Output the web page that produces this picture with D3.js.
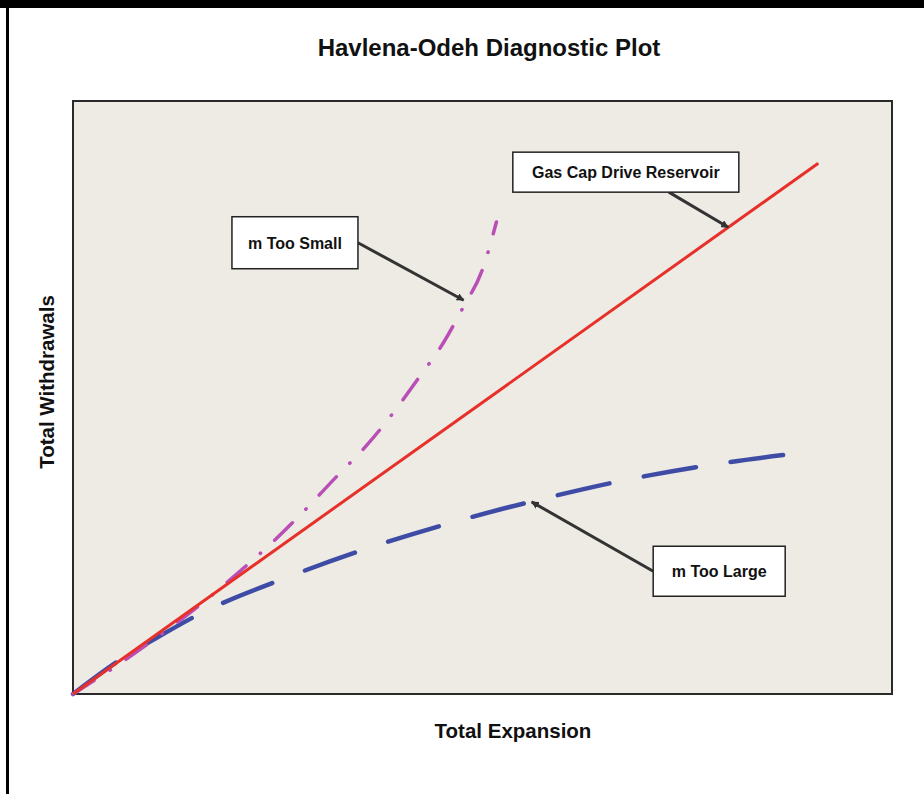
<!DOCTYPE html>
<html lang="en">
<head>
<meta charset="UTF-8">
<title>Havlena-Odeh Diagnostic Plot</title>
<script src="https://d3js.org/d3.v7.min.js"></script>
<style>
    body { margin: 0; background: #ffffff; }
    svg { display: block; font-family: 'Liberation Sans', Arial, sans-serif; }
    .title { font-size: 24px; font-weight: bold; text-anchor: middle; fill: #111; }
    .axis-label { font-size: 20.5px; font-weight: bold; text-anchor: middle; fill: #111; }
    .note-text { font-size: 16px; font-weight: bold; text-anchor: middle; fill: #111; }
</style>
</head>
<body>
<svg width="924" height="794"></svg>
<script>
// total expansion (x) vs total withdrawals (y), arbitrary units 0-10
const gasCapLine = [[0, 0], [9.1, 8.95]];

const mTooSmall = [
    [0, 0], [0.45, 0.40], [1.0, 0.93], [1.55, 1.50], [2.08, 2.12],
    [2.49, 2.63], [2.81, 3.07], [3.20, 3.64], [3.59, 4.20], [3.87, 4.67],
    [4.21, 5.31], [4.53, 5.94], [4.76, 6.51], [5.01, 7.20], [5.17, 7.96]
];

const mTooLarge = [
    [0, 0], [0.61, 0.61], [1.0, 0.93], [1.575, 1.37], [2.60, 1.96],
    [3.65, 2.48], [4.70, 2.92], [5.79, 3.31], [6.86, 3.64], [7.96, 3.90],
    [8.79, 4.05]
];

// callouts: text, point on curve, box centre (data units)
const notes = [
    { text: "Gas Cap Drive Reservoir", anchor: [8.0, 7.87], box: [6.75, 8.80] },
    { text: "m Too Small", anchor: [4.77, 6.64], box: [2.71, 7.61] },
    { text: "m Too Large", anchor: [5.60, 3.24], box: [7.89, 2.07] }
];

const svg = d3.select("svg");
const margin = { left: 73, right: 32, top: 101, bottom: 100 };
const width = +svg.attr("width");
const height = +svg.attr("height");

const x = d3.scaleLinear().domain([0, 10]).range([margin.left, width - margin.right]);
const y = d3.scaleLinear().domain([0, 10]).range([height - margin.bottom, margin.top]);

// page frame
svg.append("rect").attr("x", 0).attr("y", 0).attr("width", width).attr("height", 8).attr("fill", "#000");
svg.append("rect").attr("x", 6).attr("y", 0).attr("width", 3).attr("height", height).attr("fill", "#000");

// plot area
svg.append("rect")
    .attr("x", x(0)).attr("y", y(10))
    .attr("width", x(10) - x(0)).attr("height", y(0) - y(10))
    .attr("fill", "#edebe3")
    .attr("stroke", "#2a2a2a")
    .attr("stroke-width", 2);

svg.append("text").attr("class", "title")
    .attr("x", 489).attr("y", 56)
    .text("Havlena-Odeh Diagnostic Plot");

svg.append("text").attr("class", "axis-label")
    .attr("x", 513).attr("y", 738)
    .text("Total Expansion");

svg.append("text").attr("class", "axis-label")
    .attr("transform", "translate(54,382) rotate(-90)")
    .text("Total Withdrawals");

const line = d3.line()
    .x(d => x(d[0]))
    .y(d => y(d[1]))
    .curve(d3.curveMonotoneX);

svg.append("path")
    .datum(mTooLarge)
    .attr("d", line)
    .attr("fill", "none")
    .attr("stroke", "#3f4ca6")
    .attr("stroke-width", 4.5)
    .attr("stroke-linecap", "round")
    .attr("stroke-dasharray", "53,35");

svg.append("path")
    .datum(mTooSmall)
    .attr("d", line)
    .attr("fill", "none")
    .attr("stroke", "#b94fb6")
    .attr("stroke-width", 3.5)
    .attr("stroke-linecap", "round")
    .attr("stroke-dasharray", "25,19,0.5,19");

svg.append("path")
    .datum(gasCapLine)
    .attr("d", d3.line().x(d => x(d[0])).y(d => y(d[1])))
    .attr("fill", "none")
    .attr("stroke", "#e8302a")
    .attr("stroke-width", 3);

// arrow head
svg.append("defs").append("marker")
    .attr("id", "head")
    .attr("viewBox", "0 0 10 10")
    .attr("refX", 9).attr("refY", 5)
    .attr("markerWidth", 2.6).attr("markerHeight", 2.6)
    .attr("orient", "auto")
    .append("path")
    .attr("d", "M0,0 L10,5 L0,10 z")
    .attr("fill", "#333");

// box size and where the leader leaves the box
const boxLayout = {
    "Gas Cap Drive Reservoir": { w: 226, h: 40, side: "bottom", off: 43 },
    "m Too Small": { w: 126, h: 52, side: "right", off: 0 },
    "m Too Large": { w: 132, h: 50, side: "left", off: 0 }
};

notes.forEach(n => {
    const b = boxLayout[n.text];
    const cx = x(n.box[0]), cy = y(n.box[1]);
    const ax = x(n.anchor[0]), ay = y(n.anchor[1]);
    let sx = cx, sy = cy;
    if (b.side === "bottom") { sx = cx + b.off; sy = cy + b.h / 2; }
    else if (b.side === "right") { sx = cx + b.w / 2; }
    else { sx = cx - b.w / 2; }

    svg.append("line")
        .attr("x1", sx).attr("y1", sy)
        .attr("x2", ax).attr("y2", ay)
        .attr("stroke", "#333")
        .attr("stroke-width", 3)
        .attr("marker-end", "url(#head)");

    svg.append("rect")
        .attr("x", cx - b.w / 2).attr("y", cy - b.h / 2)
        .attr("width", b.w).attr("height", b.h)
        .attr("fill", "#fff")
        .attr("stroke", "#222")
        .attr("stroke-width", 1.5);

    svg.append("text").attr("class", "note-text")
        .attr("x", cx).attr("y", cy + 6)
        .text(n.text);
});
</script>
</body>
</html>
